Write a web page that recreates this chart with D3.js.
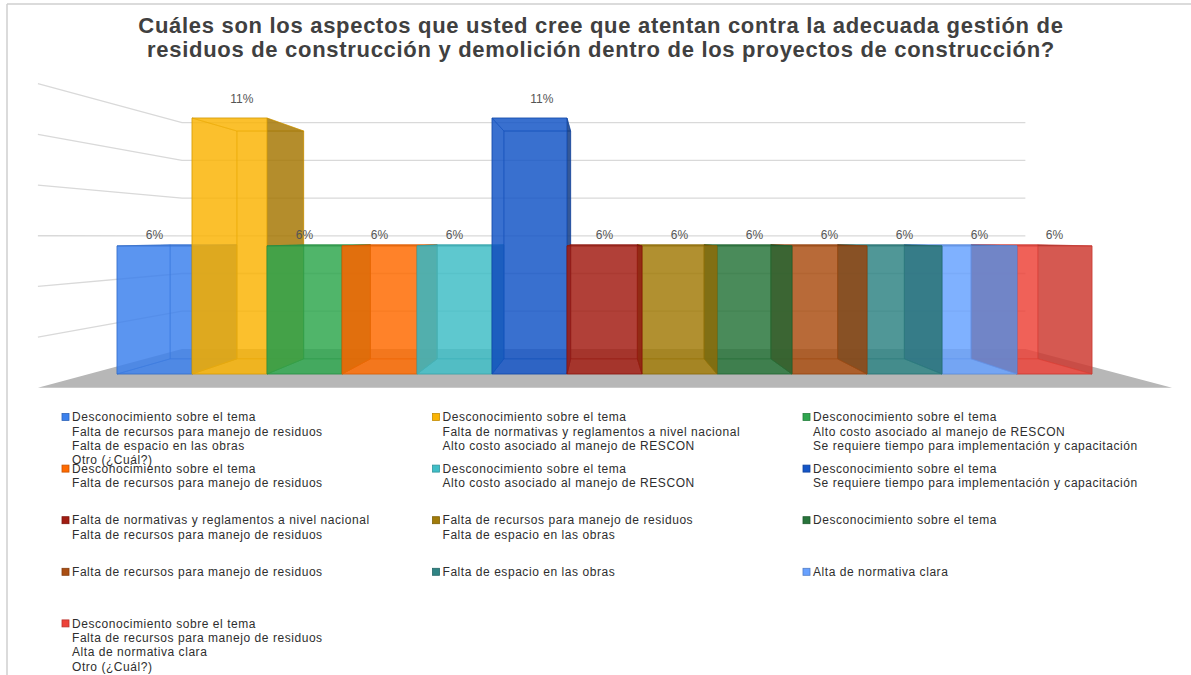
<!DOCTYPE html>
<html>
<head>
<meta charset="utf-8">
<script src="https://cdn.jsdelivr.net/npm/d3@7/dist/d3.min.js"></script>
<style>
  html, body { margin: 0; padding: 0; background: #fff; }
  svg { display: block; font-family: "Liberation Sans", Arial, sans-serif; }
</style>
</head>
<body>
<svg id="chart" width="1191" height="675"></svg>
<script>
// ---- data ---------------------------------------------------------------
const titleLines = [
  "Cuáles son los aspectos que usted cree que atentan contra la adecuada gestión de",
  "residuos de construcción y demolición dentro de los proyectos de construcción?"
];

// each category is a combination of answers, one answer per legend line
const categories = [
  ["Desconocimiento sobre el tema", "Falta de recursos para manejo de residuos", "Falta de espacio en las obras", "Otro (¿Cuál?)"],
  ["Desconocimiento sobre el tema", "Falta de normativas y reglamentos a nivel nacional", "Alto costo asociado al manejo de RESCON"],
  ["Desconocimiento sobre el tema", "Alto costo asociado al manejo de RESCON", "Se requiere tiempo para implementación y capacitación"],
  ["Desconocimiento sobre el tema", "Falta de recursos para manejo de residuos"],
  ["Desconocimiento sobre el tema", "Alto costo asociado al manejo de RESCON"],
  ["Desconocimiento sobre el tema", "Se requiere tiempo para implementación y capacitación"],
  ["Falta de normativas y reglamentos a nivel nacional", "Falta de recursos para manejo de residuos"],
  ["Falta de recursos para manejo de residuos", "Falta de espacio en las obras"],
  ["Desconocimiento sobre el tema"],
  ["Falta de recursos para manejo de residuos"],
  ["Falta de espacio en las obras"],
  ["Alta de normativa clara"],
  ["Desconocimiento sobre el tema", "Falta de recursos para manejo de residuos", "Alta de normativa clara", "Otro (¿Cuál?)"]
];

// share of responses (1 or 2 answers out of 18)
const values = [0.0556, 0.1111, 0.0556, 0.0556, 0.0556, 0.1111, 0.0556, 0.0556, 0.0556, 0.0556, 0.0556, 0.0556, 0.0556];

const colors = ["#3c81ed", "#fab405", "#2fa64e", "#ff6a00", "#3fbec7", "#1455c7", "#a11c12",
                "#a17b09", "#28743b", "#aa4e12", "#2f8484", "#68a1ff", "#ed4238"];

const gridTicks = [0.02, 0.04, 0.06, 0.08, 0.10, 0.12];

// ---- layout -------------------------------------------------------------
const svg = d3.select("#chart");
const W = 1191, H = 675;
const fmt = d3.format(".0%");

// perspective: vanishing point and depth scale factors of each plane
const VX = 600, VY = 236;
const S_FLOOR_FRONT = 1.10, S_FRONT = 1.0, S_BACK = 0.89, S_WALL = 0.818;
const proj = (px, py, s) => [VX + s * (px - VX), VY + s * (py - VY)];

const x = d3.scaleBand().domain(d3.range(categories.length)).range([117, 1092]).padding(0);
const y = d3.scaleLinear().domain([0, 0.12]).range([374, 374 - 0.12 * 2304]);
const wallX0 = x.range()[0] - 28, wallX1 = x.range()[1] + 28;

const poly = pts => "M" + pts.map(p => p[0].toFixed(2) + "," + p[1].toFixed(2)).join("L") + "Z";

// frame
svg.append("line").attr("x1", 7).attr("y1", 4).attr("x2", W).attr("y2", 4)
  .attr("stroke", "#cfcfcf").attr("stroke-width", 1.5);
svg.append("line").attr("x1", 7).attr("y1", 4).attr("x2", 7).attr("y2", H)
  .attr("stroke", "#cfcfcf").attr("stroke-width", 1.5);

// title
svg.append("g").selectAll("text").data(titleLines).join("text")
  .attr("x", 601).attr("y", (d, i) => 32.5 + i * 24.5)
  .attr("text-anchor", "middle")
  .attr("font-size", 22).attr("letter-spacing", 0.7)
  .attr("font-weight", "bold").attr("fill", "#404040")
  .text(d => d);

// walls: gridlines on the left wall and the back wall
const grid = svg.append("g").attr("stroke", "#d9d9d9").attr("stroke-width", 1.3).attr("fill", "none");
gridTicks.forEach(t => {
  const a = proj(wallX0, y(t), S_FLOOR_FRONT);
  const b = proj(wallX0, y(t), S_WALL);
  const c = proj(wallX1, y(t), S_WALL);
  grid.append("path").attr("d", "M" + a + "L" + b + "L" + c);
});

// floor
svg.append("path")
  .attr("d", poly([
    proj(wallX0, y(0), S_FLOOR_FRONT), proj(wallX1, y(0), S_FLOOR_FRONT),
    proj(wallX1, y(0), S_WALL), proj(wallX0, y(0), S_WALL)
  ]))
  .attr("fill", "#b7b7b7");

// bars: translucent boxes, drawn from the outside toward the vanishing point
const bw = x.bandwidth();
const idx = d3.range(values.length);
const leftSide = idx.filter(i => x(i) + bw / 2 < VX);
const rightSide = idx.filter(i => x(i) + bw / 2 >= VX).reverse();
const order = leftSide.concat(rightSide);

const barsG = svg.append("g");
order.forEach(i => {
  const x0 = x(i), x1 = x0 + bw, yt = y(values[i]), yb = y(0);
  const f = { tl: proj(x0, yt, S_FRONT), tr: proj(x1, yt, S_FRONT), br: proj(x1, yb, S_FRONT), bl: proj(x0, yb, S_FRONT) };
  const b = { tl: proj(x0, yt, S_BACK), tr: proj(x1, yt, S_BACK), br: proj(x1, yb, S_BACK), bl: proj(x0, yb, S_BACK) };
  const base = d3.rgb(colors[i]);
  const dark = base.darker(1.8);
  const edge = base.darker(0.5);
  const faces = [
    { pts: [b.tl, b.tr, b.br, b.bl], fill: base },
    { pts: [f.bl, f.br, b.br, b.bl], fill: base },
    { pts: [f.tl, b.tl, b.bl, f.bl], fill: base },
    { pts: [f.tl, f.tr, b.tr, b.tl], fill: base },
    { pts: [f.tr, b.tr, b.br, f.br], fill: dark },
    { pts: [f.tl, f.tr, f.br, f.bl], fill: base }
  ];
  const g = barsG.append("g");
  g.selectAll("path").data(faces).join("path")
    .attr("d", d => poly(d.pts))
    .attr("fill", d => d.fill)
    .attr("fill-opacity", 0.6)
    .attr("stroke", edge)
    .attr("stroke-opacity", 0.55)
    .attr("stroke-width", 0.9)
    .attr("stroke-linejoin", "round");
});

// value labels
svg.append("g").selectAll("text").data(values).join("text")
  .attr("x", (d, i) => x(i) + bw / 2 + Math.max(0, VY - y(d)) * 0.105)
  .attr("y", d => VY + 1.0625 * (y(d) - 11 - VY))
  .attr("dy", "0.35em")
  .attr("text-anchor", "middle")
  .attr("font-size", 12).attr("fill", "#555")
  .text(d => fmt(d));

// legend: three columns, one block of answer lines per category
const legend = svg.append("g");
categories.forEach((lines, i) => {
  const col = i % 3, row = Math.floor(i / 3);
  const lx = 62 + col * 370.5, ly = 417 + row * 51.6;
  const g = legend.append("g");
  g.append("rect").attr("x", lx).attr("y", ly - 3.5).attr("width", 7).attr("height", 7)
    .attr("fill", colors[i]).attr("stroke", d3.rgb(colors[i]).darker(0.7)).attr("stroke-width", 0.8);
  g.selectAll("text").data(lines).join("text")
    .attr("x", lx + 10).attr("y", (d, k) => ly + k * 14.3)
    .attr("dy", "0.35em")
    .attr("font-size", 12).attr("letter-spacing", 0.55).attr("fill", "#2e2e2e")
    .text(d => d);
});
</script>
</body>
</html>
